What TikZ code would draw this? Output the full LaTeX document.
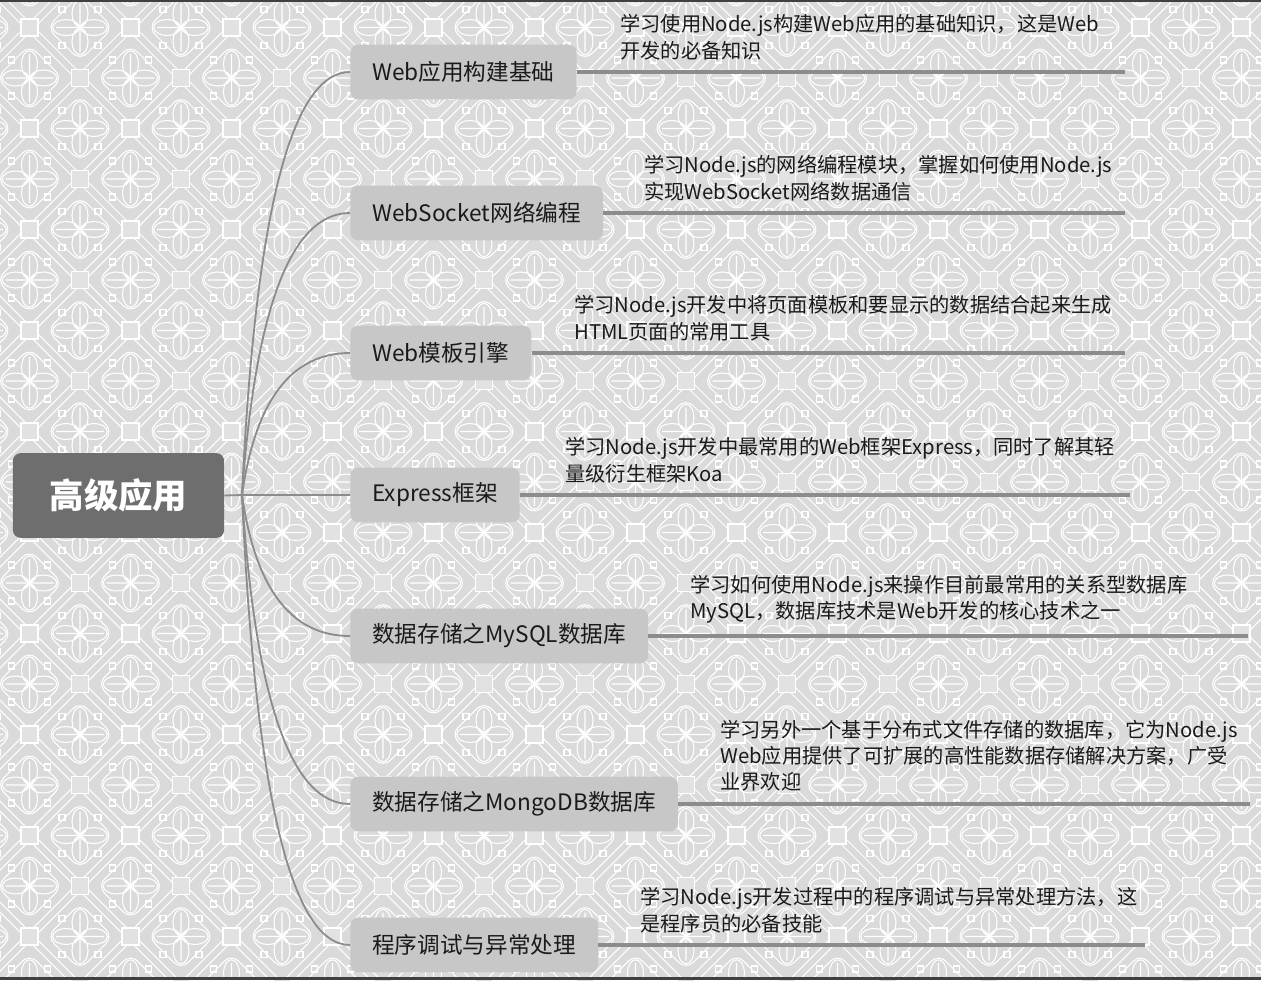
\documentclass[tikz,border=0pt]{standalone}
\usepackage{fontspec}
\setmainfont{Noto Sans CJK SC}
\definecolor{paper}{HTML}{DADADA}
\definecolor{tile}{HTML}{E2E2E2}
\definecolor{rootgray}{HTML}{6E6E6E}
\definecolor{topicgray}{HTML}{C7C7C7}
\definecolor{linegray}{HTML}{8C8C8C}
\definecolor{ink}{HTML}{1A1A1A}
\begin{document}
\begin{tikzpicture}[x=0.025cm, y=-0.025cm,
  pat/.style={draw=white, line width=0.75pt},
  rootbox/.style={shape=rectangle, rounded corners=0.2cm, fill=rootgray,
    text=white, font=\fontsize{24.5}{28}\selectfont\bfseries,
    minimum width=5.28cm, minimum height=2.12cm},
  topic/.style={shape=rectangle, rounded corners=0.2cm, fill=topicgray,
    anchor=west, text=ink, minimum height=1.37cm, inner xsep=0.55cm,
    font=\fontsize{16.1}{19}\selectfont},
  note/.style={anchor=south west, align=left, inner sep=0pt, text=ink,
    font=\fontsize{14.4}{18.7}\selectfont},
  twig/.style={draw=linegray, line width=1.3pt},
  stem/.style={draw=linegray, line width=2.6pt}
  ]
  \useasboundingbox (0,0) rectangle (1261,980);
  \begin{scope}
    \clip (0,0) rectangle (1261,980);
    \fill[paper] (0,0) rectangle (1261,980);
    \foreach \k in {-4,...,19}{
      \pgfmathsetmacro\c{360+101*\k}
      \draw[pat] (\c-5,0) -- (\c-1005,1000) (\c+5,0) -- (\c-995,1000);
    }
    \foreach \m in {-12,...,11}{
      \pgfmathsetmacro\d{204+101*\m}
      \draw[pat] (\d-5,0) -- (\d+995,1000) (\d+5,0) -- (\d+1005,1000);
    }
    \foreach \i in {-6,...,20}{
      \foreach \j in {-2,...,18}{
        \pgfmathsetmacro\px{282+50.5*\i}
        \pgfmathsetmacro\py{78+50.5*\j}
        \pgfmathtruncatemacro\odd{mod(\i+\j+40,2)}
        \ifnum\odd=0
          \draw[pat, fill=tile] (\px-8.5,\py-8.5) rectangle ++(17,17);
        \else
          \begin{scope}[shift={(\px,\py)}]
            \draw[pat, rounded corners=0.25cm] (-33,0) -- (0,-33) -- (33,0)
              -- (0,33) -- cycle;
            \draw[pat] (-14,0) ellipse[x radius=0.33cm, y radius=0.2cm]
              (14,0) ellipse[x radius=0.33cm, y radius=0.2cm]
              (0,-14) ellipse[x radius=0.2cm, y radius=0.33cm]
              (0,14) ellipse[x radius=0.2cm, y radius=0.33cm];
            \draw[pat] (-24,0) -- (24,0) (0,-24) -- (0,24)
              (-5,-5) -- (5,5) (-5,5) -- (5,-5);
            \draw[pat] (-21,-21) rectangle (-15,-15) (15,-15) rectangle (21,-21)
              (-21,15) rectangle (-15,21) (15,15) rectangle (21,21);
          \end{scope}
        \fi
      }
    }
    \fill[black!75] (0,0) rectangle (1261,2);
    \fill[black!75] (0,977) rectangle (1261,980);
  \end{scope}

  \node[rootbox] (root) at (118.5,495.5) {高级应用};
  \coordinate (hub) at (242,495);

  \node[topic] (web) at (350,72) {Web应用构建基础};
  \node[topic] (sock) at (350,213) {WebSocket网络编程};
  \node[topic] (tpl) at (350,353) {Web模板引擎};
  \node[topic] (express) at (350,495) {Express框架};
  \node[topic] (mysql) at (350,636) {数据存储之MySQL数据库};
  \node[topic] (mongo) at (350,804) {数据存储之MongoDB数据库};
  \node[topic] (debug) at (350,945) {程序调试与异常处理};

  \coordinate (webend) at (1125,72);
  \coordinate (sockend) at (1125,213);
  \coordinate (tplend) at (1125,353);
  \coordinate (expressend) at (1130,495);
  \coordinate (mysqlend) at (1248,636);
  \coordinate (mongoend) at (1250,804);
  \coordinate (debugend) at (1145,945);

  \node[note] (webnote) at (620,60) {学习使用Node.js构建Web应用的基础知识，这是Web\\开发的必备知识};
  \node[note] (socknote) at (644,201) {学习Node.js的网络编程模块，掌握如何使用Node.js\\实现WebSocket网络数据通信};
  \node[note] (tplnote) at (574,341) {学习Node.js开发中将页面模板和要显示的数据结合起来生成\\HTML页面的常用工具};
  \node[note] (expressnote) at (565,483) {学习Node.js开发中最常用的Web框架Express，同时了解其轻\\量级衍生框架Koa};
  \node[note] (mysqlnote) at (690,624) {学习如何使用Node.js来操作目前最常用的关系型数据库\\MySQL，数据库技术是Web开发的核心技术之一};
  \node[note] (mongonote) at (720,792) {学习另外一个基于分布式文件存储的数据库，它为Node.js\\Web应用提供了可扩展的高性能数据存储解决方案，广受\\业界欢迎};
  \node[note] (debugnote) at (640,933) {学习Node.js开发过程中的程序调试与异常处理方法，这\\是程序员的必备技能};

  \draw[twig] (root.east) -- (hub) -- (express.west);
  \foreach \n/\y in {web/72, sock/213, tpl/353, mysql/636, mongo/804, debug/945}
    \draw[twig] (hub) .. controls (255,{495+0.65*(\y-495)}) and (290,\y) .. (\n.west);
  \foreach \n in {web, sock, tpl, express, mysql, mongo, debug}
    \draw[stem] (\n.east) -- (\n end);
\end{tikzpicture}
\end{document}
